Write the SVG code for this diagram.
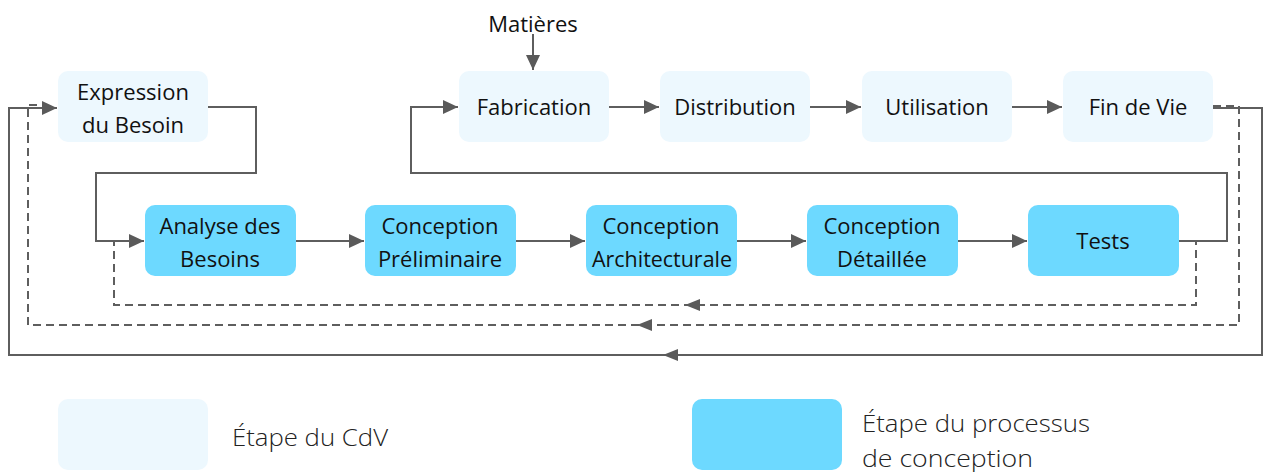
<svg xmlns="http://www.w3.org/2000/svg" width="1263" height="472" viewBox="0 0 1263 472">
<defs>
<style>
.cdv{fill:#EDF8FE}
.proc{fill:#6DD9FF}
.t{font-family:"Open Sans","DejaVu Sans",sans-serif;font-size:22px;fill:#111;text-anchor:middle}
.lg{font-family:"Open Sans","DejaVu Sans",sans-serif;font-size:24px;fill:#222;font-weight:300}
.ln{fill:none;stroke:#5E5E5E;stroke-width:2}
.ds{fill:none;stroke:#5E5E5E;stroke-width:2;stroke-dasharray:8 5}
.ah{fill:#5A5A5A}
</style>
<marker id="arr" markerUnits="userSpaceOnUse" markerWidth="16" markerHeight="14" refX="15" refY="7" orient="auto">
<path d="M0,0 L15,7 L0,14 Z" fill="#5A5A5A"/>
</marker>
</defs>
<rect width="1263" height="472" fill="#fff"/>
<g id="connectors">
<path class="ln" d="M208,107 H256 V173 H96 V241 H144" marker-end="url(#arr)"/>
<path class="ln" d="M296,241 H364" marker-end="url(#arr)"/>
<path class="ln" d="M516,241 H585" marker-end="url(#arr)"/>
<path class="ln" d="M737,241 H806" marker-end="url(#arr)"/>
<path class="ln" d="M958,241 H1027" marker-end="url(#arr)"/>
<path class="ln" d="M1179,241 H1227 V173 H411 V107 H458" marker-end="url(#arr)"/>
<path class="ln" d="M533,34 V70" marker-end="url(#arr)"/>
<path class="ln" d="M609,107 H659" marker-end="url(#arr)"/>
<path class="ln" d="M810,107 H861" marker-end="url(#arr)"/>
<path class="ln" d="M1012,107 H1062" marker-end="url(#arr)"/>
<path class="ln" d="M1213,108 H1262 V355 H9 V108 H57" marker-end="url(#arr)"/>
<path class="ds" d="M1213,106 H1239 V325 H28 V105 H40"/>
<path class="ds" d="M1179,241 H1196 V305 H114 V241 H130"/>
<polygon class="ah" points="685,305 700,299 700,311"/>
<polygon class="ah" points="637,325 652,319 652,331"/>
<polygon class="ah" points="663,355 678,349 678,361"/>
</g>
<g id="matieres"><text class="t" x="533" y="32">Matières</text></g>
<g id="expression"><rect class="cdv" x="58" y="71" width="150" height="71" rx="10"/><text class="t" x="133" y="100">Expression</text><text class="t" x="133" y="133">du Besoin</text></g>
<g id="fabrication"><rect class="cdv" x="459" y="71" width="150" height="71" rx="10"/><text class="t" x="534" y="115">Fabrication</text></g>
<g id="distribution"><rect class="cdv" x="660" y="71" width="150" height="71" rx="10"/><text class="t" x="735" y="115">Distribution</text></g>
<g id="utilisation"><rect class="cdv" x="862" y="71" width="150" height="71" rx="10"/><text class="t" x="937" y="115">Utilisation</text></g>
<g id="findevie"><rect class="cdv" x="1063" y="71" width="150" height="71" rx="10"/><text class="t" x="1138" y="115">Fin de Vie</text></g>
<g id="analyse"><rect class="proc" x="145" y="205" width="151" height="71" rx="10"/><text class="t" x="220" y="234">Analyse des</text><text class="t" x="220" y="267">Besoins</text></g>
<g id="preliminaire"><rect class="proc" x="365" y="205" width="151" height="71" rx="10"/><text class="t" x="440" y="234">Conception</text><text class="t" x="440" y="267">Préliminaire</text></g>
<g id="architecturale"><rect class="proc" x="586" y="205" width="151" height="71" rx="10"/><text class="t" x="661" y="234">Conception</text><text class="t" x="662" y="267" textLength="140" lengthAdjust="spacingAndGlyphs">Architecturale</text></g>
<g id="detaillee"><rect class="proc" x="807" y="205" width="151" height="71" rx="10"/><text class="t" x="882" y="234">Conception</text><text class="t" x="882" y="267">Détaillée</text></g>
<g id="tests"><rect class="proc" x="1028" y="205" width="151" height="71" rx="10"/><text class="t" x="1103" y="249">Tests</text></g>
<g id="legend-cdv"><rect class="cdv" x="58" y="399" width="150" height="71" rx="10"/><text class="lg" x="232" y="446" textLength="156" lengthAdjust="spacingAndGlyphs">Étape du CdV</text></g>
<g id="legend-proc"><rect class="proc" x="692" y="399" width="150" height="71" rx="10"/><text class="lg" x="862" y="432" textLength="228" lengthAdjust="spacingAndGlyphs">Étape du processus</text><text class="lg" x="862" y="467" textLength="171" lengthAdjust="spacingAndGlyphs">de conception</text></g>
</svg>
